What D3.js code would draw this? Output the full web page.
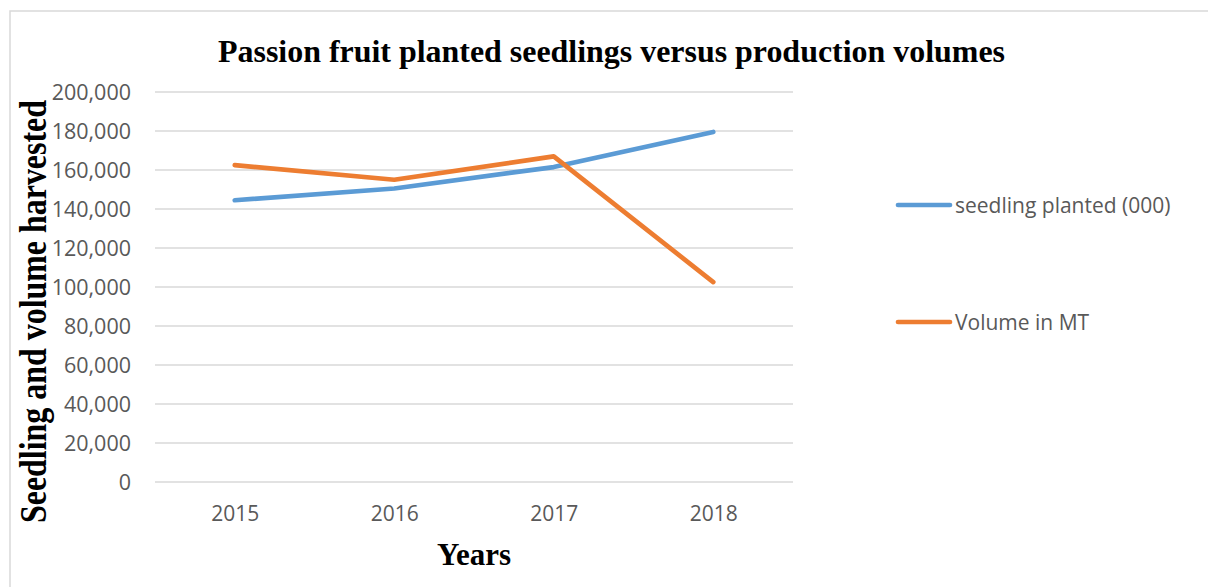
<!DOCTYPE html>
<html><head><meta charset="utf-8">
<script src="https://cdn.jsdelivr.net/npm/d3@7"></script>
<style>body{margin:0;background:#fff}svg{display:block}</style>
</head><body>
<svg id="c" width="1208" height="587"></svg>
<script>
const years = ["2015", "2016", "2017", "2018"];
const seedlings = [144500, 150500, 161500, 179500];
const volume = [162500, 155000, 167000, 102500];
const seriesNames = ["seedling planted (000)", "Volume in MT"];
const seriesColors = ["#5b9bd5", "#ed7d31"];
const yTicks = [0, 20000, 40000, 60000, 80000, 100000, 120000, 140000, 160000, 180000, 200000];
const titleText = "Passion fruit planted seedlings versus production volumes";
const xTitle = "Years";
const yTitle = "Seedling and volume harvested";

const svg = d3.select("#c");
const serif = "'Liberation Serif','Times New Roman',serif";
const sans = "'Open Sans','Noto Sans',sans-serif";

// chart frame
svg.append("path").attr("d", "M10,600 L10,11 L1220,11")
  .attr("fill", "none").attr("stroke", "#d9d9d9").attr("stroke-width", 1.5);

const x = d3.scalePoint().domain(years).range([155, 793]).padding(0.5);
const y = d3.scaleLinear().domain([0, 200000]).range([482, 92]);

// gridlines
svg.append("g").selectAll("line").data(yTicks).join("line")
  .attr("x1", 155).attr("x2", 793)
  .attr("y1", d => y(d)).attr("y2", d => y(d))
  .attr("stroke", "#d9d9d9").attr("stroke-width", 1.5);

// y axis
const yAxis = svg.append("g").attr("transform", "translate(131,0)")
  .call(d3.axisLeft(y).tickValues(yTicks).tickFormat(d3.format(",")).tickSize(0).tickPadding(0));
yAxis.select(".domain").remove();
yAxis.selectAll("text").attr("font-family", sans).attr("font-size", 21.5).attr("fill", "#595959").attr("dy", "0.35em");

// x axis
const xAxis = svg.append("g").attr("transform", "translate(0,482)")
  .call(d3.axisBottom(x).tickSize(0).tickPadding(0));
xAxis.select(".domain").remove();
xAxis.selectAll("text").attr("font-family", sans).attr("font-size", 21).attr("fill", "#595959")
  .attr("y", 39).attr("dy", 0);

// lines
const series = [seedlings, volume];
const line = d3.line().x((d, i) => x(years[i])).y(d => y(d));
series.forEach((s, k) => {
  svg.append("path").datum(s).attr("d", line)
    .attr("fill", "none").attr("stroke", seriesColors[k]).attr("stroke-width", 4.7)
    .attr("stroke-linecap", "round").attr("stroke-linejoin", "round");
});

// legend
const legY = [205, 322];
seriesNames.forEach((n, k) => {
  svg.append("line").attr("x1", 898).attr("x2", 950).attr("y1", legY[k]).attr("y2", legY[k])
    .attr("stroke", seriesColors[k]).attr("stroke-width", 4.7).attr("stroke-linecap", "round");
  svg.append("text").attr("x", 955).attr("y", legY[k] + 8).text(n)
    .attr("font-family", sans).attr("font-size", 21).attr("fill", "#595959");
});

// title
svg.append("text").attr("x", 218).attr("y", 62).text(titleText)
  .attr("font-family", serif).attr("font-weight", "bold").attr("font-size", 31)
  .attr("textLength", 787).attr("lengthAdjust", "spacingAndGlyphs").attr("fill", "#000");

// x title
svg.append("text").attr("x", 437).attr("y", 565).text(xTitle)
  .attr("font-family", serif).attr("font-weight", "bold").attr("font-size", 32)
  .attr("textLength", 74).attr("lengthAdjust", "spacingAndGlyphs").attr("fill", "#000");

// y title
svg.append("text").attr("transform", "translate(46,523) rotate(-90)").text(yTitle)
  .attr("font-family", serif).attr("font-weight", "bold").attr("font-size", 37)
  .attr("textLength", 423).attr("lengthAdjust", "spacingAndGlyphs").attr("fill", "#000");
</script>
</body></html>
